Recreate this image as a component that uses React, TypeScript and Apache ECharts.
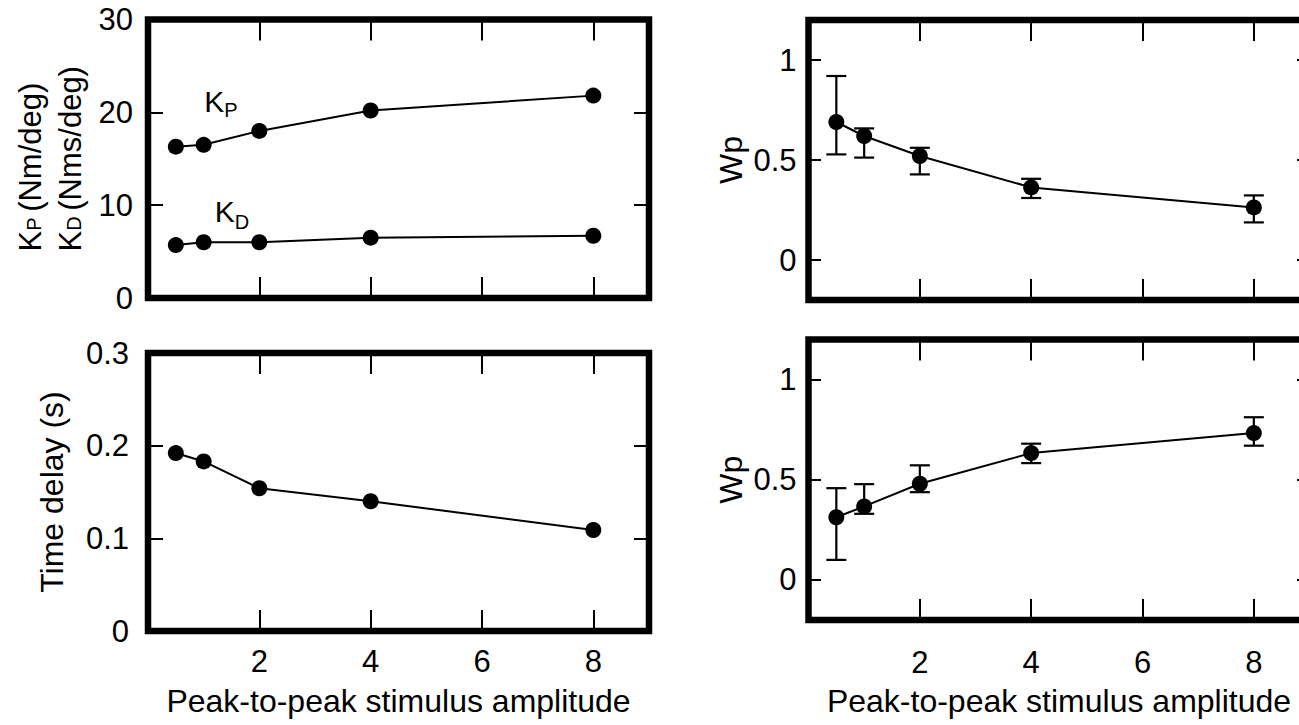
import React, { useEffect, useRef } from "react";
import * as echarts from "echarts";

// ---- data ----
const X_VALUES = [0.5, 1, 2, 4, 8];
const KP_VALUES = [16.3, 16.5, 18.0, 20.2, 21.8];
const KD_VALUES = [5.7, 6.0, 6.0, 6.5, 6.7];
const DELAY_VALUES = [0.192, 0.183, 0.154, 0.14, 0.109];
const WP_TOP_VALUES = [0.69, 0.62, 0.52, 0.363, 0.263];
const WP_TOP_LOW = [0.528, 0.512, 0.428, 0.31, 0.188];
const WP_TOP_HIGH = [0.92, 0.658, 0.561, 0.406, 0.323];
const WP_BOTTOM_VALUES = [0.313, 0.367, 0.48, 0.633, 0.733];
const WP_BOTTOM_LOW = [0.1, 0.33, 0.438, 0.583, 0.67];
const WP_BOTTOM_HIGH = [0.458, 0.478, 0.572, 0.68, 0.812];

const X_TICKS = [2, 4, 6, 8];
const K_TICKS = [0, 10, 20, 30];
const DELAY_TICKS = [0, 0.1, 0.2, 0.3];
const WP_TICKS = [0, 0.5, 1];

const X_NAME = "Peak-to-peak stimulus amplitude";
const DELAY_NAME = "Time delay (s)";
const WP_NAME = "Wp";

const FONT = "'Liberation Sans', Arial, Helvetica, sans-serif";
const INK = "#000";

const pairs = (ys: number[]) => X_VALUES.map((x, i) => [x, ys[i]]);
const triples = (lo: number[], hi: number[]) => X_VALUES.map((x, i) => [x, lo[i], hi[i]]);

const tickText = { fontFamily: FONT, color: INK, fontSize: 31 };
const nameText = { fontFamily: FONT, color: INK, fontSize: 32 };

function xAxes(grid: number, showLabels: boolean, margin: number, nameGap: number) {
  const common = {
    type: "value",
    gridIndex: grid,
    min: 0,
    max: 9,
    axisLine: { show: false, onZero: false },
    splitLine: { show: false },
    axisTick: {
      show: true,
      inside: true,
      length: 21,
      customValues: X_TICKS,
      lineStyle: { color: INK, width: 2 },
    },
  };
  return [
    {
      ...common,
      position: "bottom",
      axisLabel: {
        show: showLabels,
        customValues: X_TICKS,
        margin,
        ...tickText,
      },
      name: showLabels ? X_NAME : "",
      nameLocation: "middle",
      nameGap,
      nameTextStyle: { ...nameText },
    },
    {
      ...common,
      position: "top",
      axisLabel: { show: false },
    },
  ];
}

function yAxes(
  grid: number,
  min: number,
  max: number,
  ticks: number[],
  tickLen: number,
  margin: number,
  name: string,
  nameGap: number,
  nameStyle: any
) {
  const common = {
    type: "value",
    gridIndex: grid,
    min,
    max,
    axisLine: { show: false, onZero: false },
    splitLine: { show: false },
    axisTick: {
      show: true,
      inside: true,
      length: tickLen,
      customValues: ticks,
      lineStyle: { color: INK, width: 2 },
    },
  };
  return [
    {
      ...common,
      position: "left",
      axisLabel: { show: true, customValues: ticks, margin, ...tickText },
      name,
      nameLocation: "middle",
      nameRotate: 90,
      nameGap,
      nameTextStyle: nameStyle,
    },
    {
      ...common,
      position: "right",
      axisLabel: { show: false },
    },
  ];
}

const renderErrorBar = (params: any, api: any) => {
  const x = api.value(0);
  const lo = api.coord([x, api.value(1)]);
  const hi = api.coord([x, api.value(2)]);
  const half = 10;
  const style = { stroke: INK, lineWidth: 2.2 };
  return {
    type: "group",
    children: [
      { type: "line", shape: { x1: lo[0], y1: lo[1], x2: hi[0], y2: hi[1] }, style },
      { type: "line", shape: { x1: hi[0] - half, y1: hi[1], x2: hi[0] + half, y2: hi[1] }, style },
      { type: "line", shape: { x1: lo[0] - half, y1: lo[1], x2: lo[0] + half, y2: lo[1] }, style },
    ],
  };
};

const lineSeries = (data: number[][], axis: number, extra: any = {}) => ({
  type: "line",
  xAxisIndex: axis,
  yAxisIndex: axis,
  data,
  symbol: "circle",
  symbolSize: 16,
  showSymbol: true,
  itemStyle: { color: INK },
  lineStyle: { color: INK, width: 2 },
  z: 3,
  ...extra,
});

const errorSeries = (lo: number[], hi: number[], axis: number) => ({
  type: "custom",
  xAxisIndex: axis,
  yAxisIndex: axis,
  data: triples(lo, hi),
  encode: { x: 0, y: [1, 2] },
  renderItem: renderErrorBar,
  z: 2,
});

// subscript letter dropped by `drop` px below the K baseline
const subLabel = (letter: string, drop: number) => {
  const subSize = 20;
  const pad = 2 * (drop + 0.35 * (30 - subSize));
  const lh = subSize + pad;
  return {
    show: true,
    position: "inside",
    formatter: `{k|K}{s|${letter}}`,
    rich: {
      k: { fontFamily: FONT, color: INK, fontSize: 30, lineHeight: lh, align: "left" },
      s: {
        fontFamily: FONT,
        color: INK,
        fontSize: subSize,
        lineHeight: subSize,
        padding: [pad, 0, 0, 0],
        align: "left",
      },
    },
  };
};

export default function App() {
  const ref = useRef<HTMLDivElement>(null);

  useEffect(() => {
    document.body.style.margin = "0";
    if (!ref.current) return;
    const chart = echarts.init(ref.current, undefined, { renderer: "svg" });

    const gridBase = {
      show: true,
      borderWidth: 6.5,
      borderColor: INK,
      backgroundColor: "transparent",
      containLabel: false,
      outerBoundsMode: "none",
    };

    const kNameStyle = {
      fontFamily: FONT,
      color: INK,
      fontSize: 31,
      lineHeight: 40,
      rich: {
        k: { fontFamily: FONT, color: INK, fontSize: 31, lineHeight: 40, align: "left" },
        s: {
          fontFamily: FONT,
          color: INK,
          fontSize: 20,
          lineHeight: 20,
          padding: [7, 0, 0, 0],
          align: "left",
        },
        t: { fontFamily: FONT, color: INK, fontSize: 31, lineHeight: 40, align: "left" },
      },
    };

    const option: any = {
      animation: false,
      backgroundColor: "#fff",
      grid: [
        { ...gridBase, left: 148, top: 19.5, width: 501, height: 278.5 },
        { ...gridBase, left: 148, top: 353, width: 501, height: 278 },
        { ...gridBase, left: 808.5, top: 20, width: 501, height: 280 },
        { ...gridBase, left: 808.5, top: 339.5, width: 501, height: 280.5 },
      ],
      xAxis: [
        ...xAxes(0, false, 15, 54),
        ...xAxes(1, true, 15, 54),
        ...xAxes(2, false, 27, 65),
        ...xAxes(3, true, 27, 65),
      ],
      yAxis: [
        ...yAxes(
          0,
          0,
          30,
          K_TICKS,
          15,
          15,
          "{k|K}{s|P }{t|(Nm/deg)}\n{k|K}{s|D }{t|(Nms/deg)}",
          58,
          kNameStyle
        ),
        ...yAxes(1, 0, 0.3, DELAY_TICKS, 15, 19, DELAY_NAME, 80, { ...nameText }),
        ...yAxes(2, -0.2, 1.2, WP_TICKS, 12.5, 12, WP_NAME, 62, { ...nameText }),
        ...yAxes(3, -0.2, 1.2, WP_TICKS, 12.5, 12, WP_NAME, 62, { ...nameText }),
      ],
      series: [
        lineSeries(pairs(KP_VALUES), 0, {
          markPoint: {
            symbol: "circle",
            symbolSize: 0,
            data: [{ coord: [1.31, 21.2], label: subLabel("P", 5) }],
          },
        }),
        lineSeries(pairs(KD_VALUES), 0, {
          markPoint: {
            symbol: "circle",
            symbolSize: 0,
            data: [{ coord: [1.51, 9.37], label: subLabel("D", 7) }],
          },
        }),
        lineSeries(pairs(DELAY_VALUES), 2),
        errorSeries(WP_TOP_LOW, WP_TOP_HIGH, 4),
        lineSeries(pairs(WP_TOP_VALUES), 4),
        errorSeries(WP_BOTTOM_LOW, WP_BOTTOM_HIGH, 6),
        lineSeries(pairs(WP_BOTTOM_VALUES), 6),
      ],
    };

    chart.setOption(option);
    return () => chart.dispose();
  }, []);

  return (
    <div
      ref={ref}
      style={{ position: "absolute", left: 0, top: 0, width: "1299px", height: "725px" }}
    />
  );
}
